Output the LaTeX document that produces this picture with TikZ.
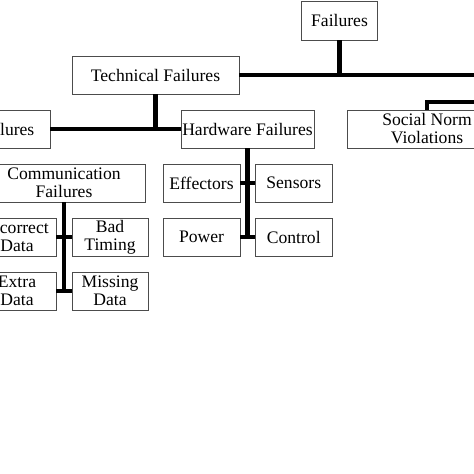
\documentclass[tikz,border=0pt]{standalone}
\usepackage{fontspec}
\setmainfont{Liberation Serif}
\begin{document}
\begin{tikzpicture}[x=1pt,y=-1pt,
  box/.style={draw=black!70,line width=.9pt,fill=white,inner sep=1pt,align=center,
    minimum height=38pt,font=\fontsize{17.6}{18}\selectfont},
  link/.style={line width=4.5pt,black}]
\useasboundingbox (0,0) rectangle (474,474);
\clip (0,0) rectangle (474,474);
\node[box,minimum width=76pt,minimum height=39pt] (fail) at (339.5,20.5) {Failures};
\node[box,minimum width=167pt] (tech) at (155.5,75) {Technical Failures};
\node[box,minimum width=156pt] (soft) at (-28,129) {Software Failures};
\node[box,minimum width=133pt] (hw) at (247.5,129) {Hardware Failures};
\node[box,minimum width=160pt] (soc) at (427,129) {Social Norm\\Violations};
\node[box,minimum width=162pt] (comm) at (64,183) {Communication\\Failures};
\node[box,minimum width=78pt] (inc) at (17,237) {Incorrect\\Data};
\node[box,minimum width=76pt] (bad) at (110,237) {Bad\\Timing};
\node[box,minimum width=78pt] (ext) at (17,291) {Extra\\Data};
\node[box,minimum width=76pt] (mis) at (110,291) {Missing\\Data};
\node[box,minimum width=77pt] (eff) at (201.5,183) {Effectors};
\node[box,minimum width=76.5pt] (sen) at (293.75,183) {Sensors};
\node[box,minimum width=77pt] (pw) at (201.5,237) {Power};
\node[box,minimum width=76.5pt] (ctl) at (293.75,237) {Control};
\coordinate (rt) at (490,75);
\coordinate (sr) at (490,102);
% top level
\draw[link] (fail.south) -- (fail.south |- tech.east);
\draw[link] (tech.east) -- (rt);
\draw[link] (soc.north) |- (sr);
% technical
\draw[link] (tech.south) -- (tech.south |- hw.west);
\draw[link] (soft.east) -- (hw.west);
% hardware
\draw[link] (hw.south) -- (hw.south |- pw.east);
\draw[link] (eff.east) -- (sen.west);
\draw[link] (pw.east) -- (ctl.west);
% communication
\draw[link] (comm.south) -- (comm.south |- ext.east);
\draw[link] (inc.east) -- (bad.west);
\draw[link] (ext.east) -- (mis.west);
\end{tikzpicture}
\end{document}
